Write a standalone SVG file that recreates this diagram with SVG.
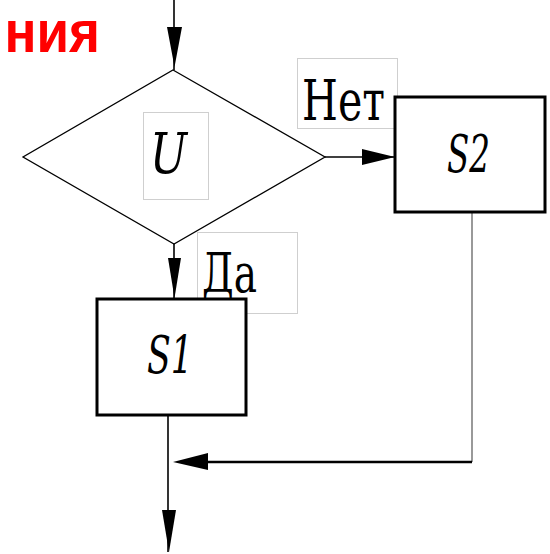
<svg xmlns="http://www.w3.org/2000/svg" width="550" height="554" viewBox="0 0 550 554">
<style>
.box{fill:#fff;stroke:#000;stroke-width:3}
.dia{fill:#fff;stroke:#000;stroke-width:1.3}
.lbl{fill:none;stroke:#cfcfcf;stroke-width:1}
.c{fill:none;stroke:#000;stroke-width:1.6}
.ah{fill:#000;stroke:none}
.sf{font-family:'DejaVu Serif',serif;fill:#000}
.it{font-style:italic}
</style>
<rect width="550" height="554" fill="#fff"/>
<text transform="translate(100,52) scale(1,1.1)" text-anchor="end" font-family="'Liberation Sans', Arial, sans-serif" font-weight="bold" font-size="53" fill="#ff0000">ния</text>

<g id="connectors">
  <line class="c" x1="174" y1="0" x2="174" y2="70"/>
  <polygon class="ah" points="167,27 182,27 174.5,67"/>
  <line class="c" x1="325" y1="157" x2="395" y2="157"/>
  <polygon class="ah" points="362,149 362,165 395,157"/>
  <line class="c" x1="174" y1="244" x2="174" y2="299"/>
  <polygon class="ah" points="168,258 181,258 174.5,298"/>
  <line class="c" x1="168" y1="415" x2="168" y2="552"/>
  <polygon class="ah" points="162,510 176,510 169,552"/>
  <line x1="472" y1="213" x2="472" y2="462" stroke="#555" stroke-width="1.2"/>
  <line x1="472" y1="462" x2="200" y2="462" stroke="#000" stroke-width="2.4"/>
  <polygon class="ah" points="208,453 208,470 173,462"/>
</g>

<g id="decision">
  <polygon class="dia" points="173,70 325,157 174,244 23,157"/>
  <rect class="lbl" x="143.5" y="112.5" width="65" height="87"/>
  <text class="sf it" font-size="56" x="150" y="173" textLength="37" lengthAdjust="spacingAndGlyphs">U</text>
</g>

<g id="label-no">
  <rect class="lbl" x="297.5" y="58.5" width="100" height="70"/>
  <text class="sf" font-size="56" x="302" y="120" textLength="83" lengthAdjust="spacingAndGlyphs">Нет</text>
</g>

<g id="label-yes">
  <rect class="lbl" x="197.5" y="232.5" width="100" height="81"/>
  <text class="sf" font-size="55" x="202" y="292" textLength="55" lengthAdjust="spacingAndGlyphs">Да</text>
</g>

<g id="S2">
  <rect class="box" x="395" y="97" width="150" height="115"/>
  <text class="sf it" font-size="53" x="447" y="172" textLength="43" lengthAdjust="spacingAndGlyphs">S2</text>
</g>

<g id="S1">
  <rect class="box" x="97" y="299" width="149" height="116"/>
  <text class="sf it" font-size="52" x="147" y="373" textLength="46" lengthAdjust="spacingAndGlyphs">S1</text>
</g>
</svg>
